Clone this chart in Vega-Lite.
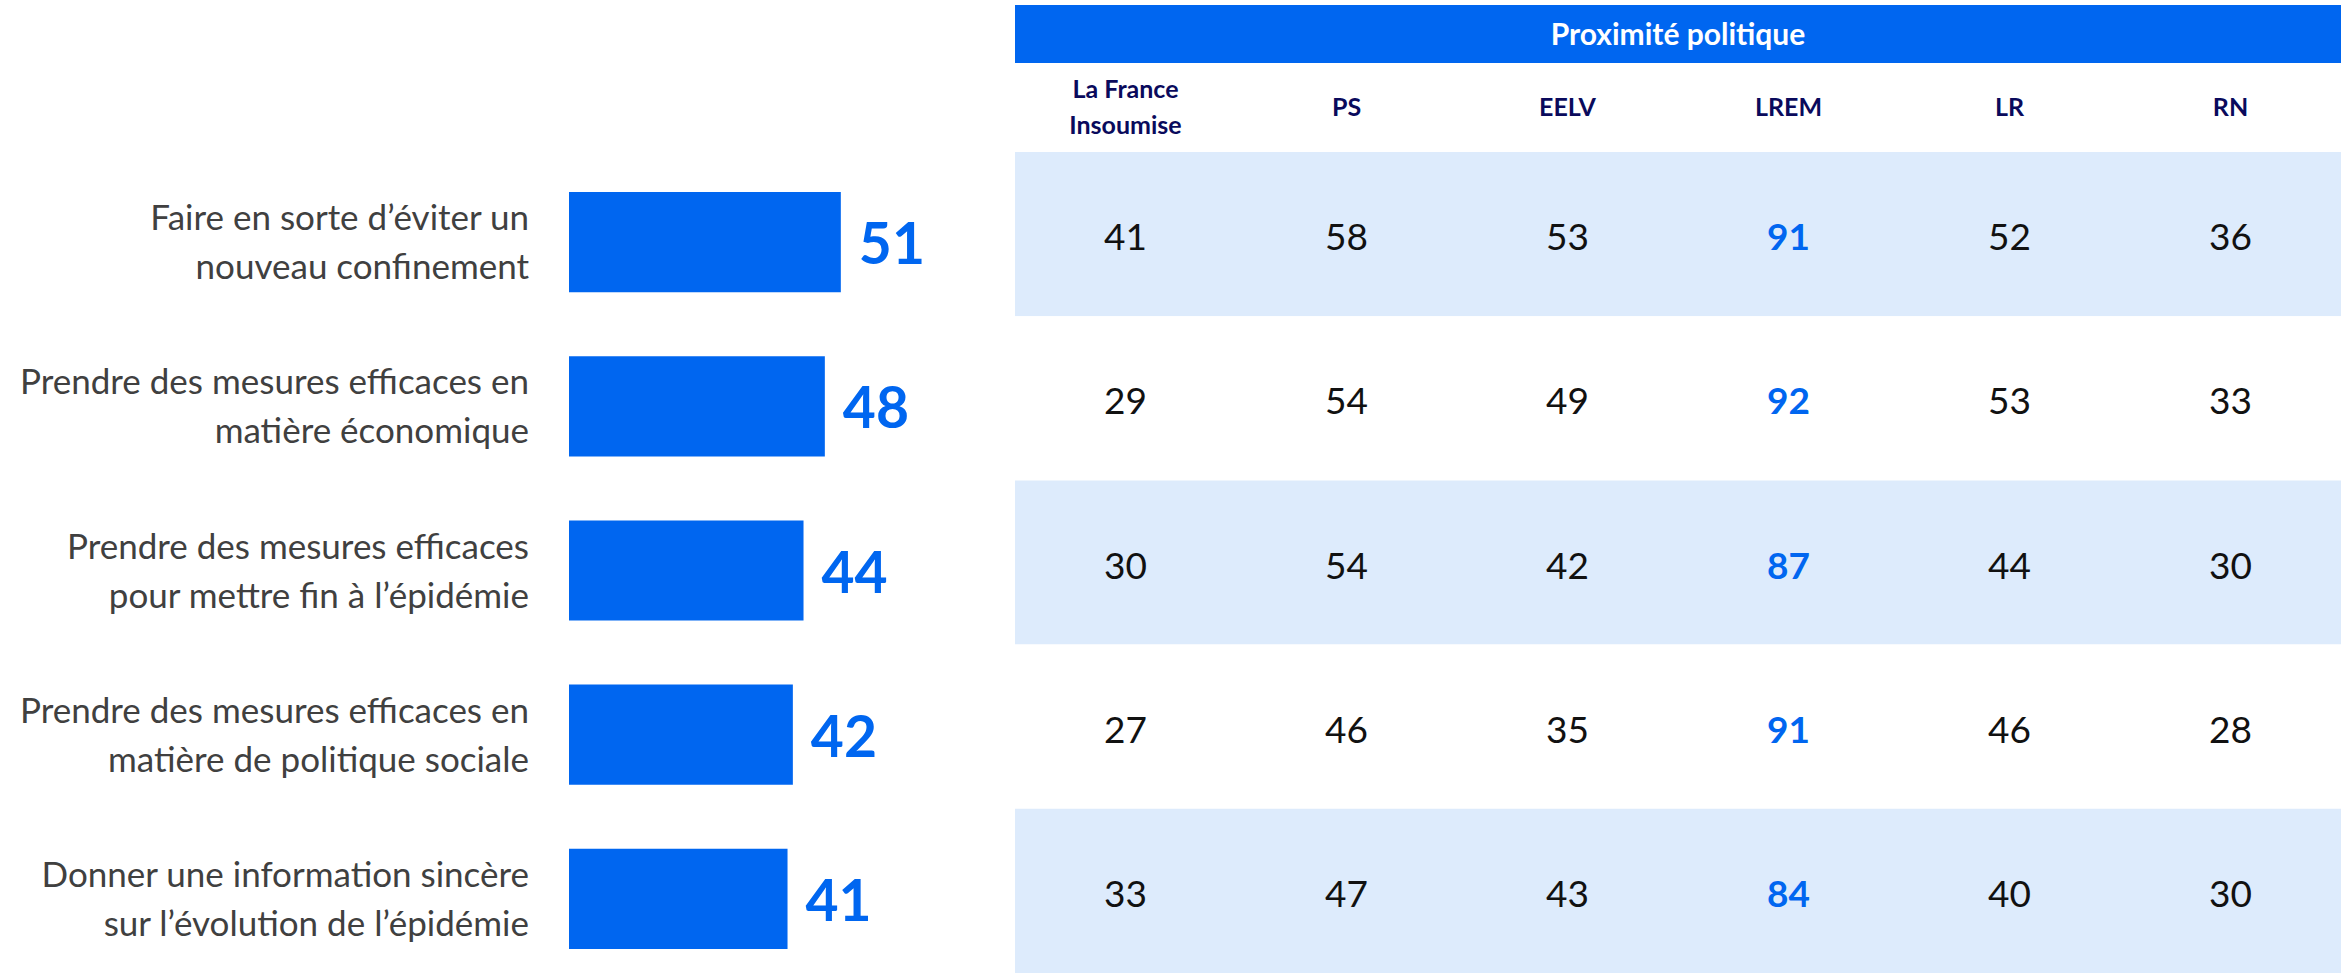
{
  "$schema": "https://vega.github.io/schema/vega-lite/v6.json",
  "width": 2341,
  "height": 973,
  "padding": 0,
  "autosize": {"type": "fit", "contains": "padding"},
  "background": "white",
  "config": {"view": {"stroke": null}},
  "datasets": {
    "items": [
      {"item": "Faire en sorte d’éviter un\nnouveau confinement", "total": 51, "La France Insoumise": 41, "PS": 58, "EELV": 53, "LREM": 91, "LR": 52, "RN": 36},
      {"item": "Prendre des mesures efficaces en\nmatière économique", "total": 48, "La France Insoumise": 29, "PS": 54, "EELV": 49, "LREM": 92, "LR": 53, "RN": 33},
      {"item": "Prendre des mesures efficaces\npour mettre fin à l’épidémie", "total": 44, "La France Insoumise": 30, "PS": 54, "EELV": 42, "LREM": 87, "LR": 44, "RN": 30},
      {"item": "Prendre des mesures efficaces en\nmatière de politique sociale", "total": 42, "La France Insoumise": 27, "PS": 46, "EELV": 35, "LREM": 91, "LR": 46, "RN": 28},
      {"item": "Donner une information sincère\nsur l’évolution de l’épidémie", "total": 41, "La France Insoumise": 33, "PS": 47, "EELV": 43, "LREM": 84, "LR": 40, "RN": 30}
    ],
    "parties": [
      {"party": "La France Insoumise", "label": "La France\nInsoumise"},
      {"party": "PS", "label": "PS"},
      {"party": "EELV", "label": "EELV"},
      {"party": "LREM", "label": "LREM"},
      {"party": "LR", "label": "LR"},
      {"party": "RN", "label": "RN"}
    ]
  },
  "layer": [
    {
      "data": {"name": "items"},
      "encoding": {
        "y": {"field": "item", "type": "nominal", "sort": null, "axis": null,
              "scale": {"type": "band", "range": [152, 973], "paddingInner": 0, "paddingOuter": 0}}
      },
      "layer": [
        {
          "mark": {"type": "bar", "color": "#0066F0", "height": {"band": 0.61}, "yOffset": 8},
          "encoding": {
            "x": {"field": "total", "type": "quantitative", "axis": null,
                  "scale": {"domain": [0, 100], "range": [569, 1102]}}
          }
        },
        {
          "mark": {"type": "text", "align": "left", "baseline": "middle", "dx": 18, "dy": 13,
                   "font": "Lato", "fontWeight": "bold", "fontSize": 57, "color": "#0066F0"},
          "encoding": {
            "x": {"field": "total", "type": "quantitative"},
            "text": {"field": "total", "type": "quantitative"}
          }
        },
        {
          "mark": {"type": "text", "align": "right", "baseline": "middle", "dx": -40, "dy": -15,
                   "lineBreak": "\n", "lineHeight": 49, "font": "Lato", "fontSize": 35, "color": "#404040"},
          "encoding": {
            "x": {"datum": 0, "type": "quantitative"},
            "text": {"field": "item", "type": "nominal"}
          }
        }
      ]
    },
    {
      "data": {"name": "items"},
      "transform": [{"fold": ["La France Insoumise", "PS", "EELV", "LREM", "LR", "RN"], "as": ["party", "value"]}],
      "encoding": {
        "y": {"field": "item", "type": "nominal", "sort": null, "axis": null,
              "scale": {"type": "band", "range": [152, 973], "paddingInner": 0, "paddingOuter": 0}},
        "x": {"field": "party", "type": "nominal", "axis": null,
              "scale": {"type": "band", "domain": ["La France Insoumise", "PS", "EELV", "LREM", "LR", "RN"], "range": [1015, 2341], "paddingInner": 0, "paddingOuter": 0}}
      },
      "layer": [
        {
          "mark": {"type": "rect"},
          "encoding": {
            "color": {"field": "item", "type": "nominal", "sort": null, "legend": null,
                      "scale": {"range": ["#DDEBFC", "#FFFFFF", "#DDEBFC", "#FFFFFF", "#DDEBFC"]}}
          }
        },
        {
          "transform": [{"filter": "datum.party !== 'LREM'"}],
          "mark": {"type": "text", "baseline": "middle", "dy": 5, "font": "Lato", "fontSize": 37, "color": "#111111"},
          "encoding": {"text": {"field": "value", "type": "quantitative"}}
        },
        {
          "transform": [{"filter": "datum.party === 'LREM'"}],
          "mark": {"type": "text", "baseline": "middle", "dy": 5, "font": "Lato", "fontWeight": "bold", "fontSize": 37, "color": "#0066F0"},
          "encoding": {"text": {"field": "value", "type": "quantitative"}}
        }
      ]
    },
    {
      "encoding": {
        "y": {"datum": "title", "type": "nominal", "axis": null,
              "scale": {"type": "band", "domain": ["title"], "range": [5, 63], "paddingInner": 0, "paddingOuter": 0}}
      },
      "layer": [
        {
          "data": {"name": "parties"},
          "mark": {"type": "rect", "color": "#0066F0"},
          "encoding": {
            "x": {"field": "party", "type": "nominal", "axis": null,
                  "scale": {"type": "band", "domain": ["La France Insoumise", "PS", "EELV", "LREM", "LR", "RN"], "range": [1015, 2341], "paddingInner": 0, "paddingOuter": 0}}
          }
        },
        {
          "data": {"values": [{"title": "Proximité politique"}]},
          "mark": {"type": "text", "align": "center", "baseline": "middle", "dy": 2, "font": "Lato", "fontWeight": "bold", "fontSize": 30, "color": "white"},
          "encoding": {
            "x": {"datum": "LREM", "type": "nominal", "bandPosition": 0},
            "text": {"field": "title", "type": "nominal"}
          }
        }
      ]
    },
    {
      "data": {"name": "parties"},
      "encoding": {
        "y": {"datum": "cols", "type": "nominal", "axis": null,
              "scale": {"type": "band", "domain": ["cols"], "range": [63, 152], "paddingInner": 0, "paddingOuter": 0}},
        "x": {"field": "party", "type": "nominal", "axis": null,
              "scale": {"type": "band", "domain": ["La France Insoumise", "PS", "EELV", "LREM", "LR", "RN"], "range": [1015, 2341], "paddingInner": 0, "paddingOuter": 0}},
        "text": {"field": "label", "type": "nominal"}
      },
      "layer": [
        {
          "transform": [{"filter": "datum.party !== 'La France Insoumise'"}],
          "mark": {"type": "text", "align": "center", "baseline": "middle", "font": "Lato", "fontWeight": "bold", "fontSize": 25, "color": "#0A0A5C"}
        },
        {
          "transform": [{"filter": "datum.party === 'La France Insoumise'"}],
          "mark": {"type": "text", "align": "center", "baseline": "middle", "dy": -18, "lineBreak": "\n", "lineHeight": 36,
                   "font": "Lato", "fontWeight": "bold", "fontSize": 25, "color": "#0A0A5C"}
        }
      ]
    }
  ],
  "resolve": {"scale": {"x": "independent", "y": "independent", "color": "independent"}}
}
